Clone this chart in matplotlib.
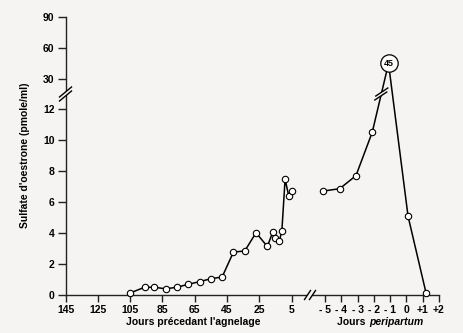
import numpy as np
import matplotlib.pyplot as plt
from matplotlib.lines import Line2D
from matplotlib.patches import Polygon
from matplotlib.transforms import IdentityTransform

plt.rcParams['font.family'] = ['Liberation Sans', 'DejaVu Sans']
plt.rcParams['font.weight'] = 'bold'

# days before lambing (left part) and peripartum days (right part)
days_before = [105, 96, 90, 83, 76, 69, 62, 55, 48, 41, 34, 27, 20, 16.7, 15, 12.6, 11, 9, 6.8, 5]
sulfate_before = [0.13, 0.5, 0.5, 0.4, 0.5, 0.69, 0.86, 1.05, 1.16, 2.77, 2.84, 4.02, 3.13,
                  4.05, 3.66, 3.46, 4.15, 7.48, 6.41, 6.73]
days_peri = [-5.1, -4.1, -3.1, -2.1, -1.1, 0.1, 1.2]
sulfate_peri = [6.71, 6.86, 7.7, 10.5, 45, 5.08, 0.15]

before_ticks = [145, 125, 105, 85, 65, 45, 25, 5]
peri_ticks = [-5, -4, -3, -2, -1, 0, 1, 2]
peri_labels = ['- 5', '- 4', '- 3', '- 2', '- 1', '0', '+1', '+2']
y_ticks = [0, 2, 4, 6, 8, 10, 12, 30, 60, 90]

bg = '#f5f4f2'
W, H = 464, 333


def fwd(y):
    y = np.asarray(y, float)
    return np.where(y <= 12, y, np.where(y >= 30, 13.94 + (y - 30) / 15.0,
                                         12 + (y - 12) * 1.94 / 18))


def inv(f):
    f = np.asarray(f, float)
    return np.where(f <= 12, f, np.where(f >= 13.94, 30 + (f - 13.94) * 15.0,
                                         12 + (f - 12) * 18 / 1.94))


fig = plt.figure(figsize=(W / 100, H / 100), dpi=100, facecolor=bg)
bottom = (H - 295) / H
height = (295 - 17) / H
ax1 = fig.add_axes([65.5 / W, bottom, (309 - 65.5) / W, height], facecolor=bg)
ax2 = fig.add_axes([311 / W, bottom, (439 - 311) / W, height], facecolor=bg, sharey=ax1)

for ax in (ax1, ax2):
    ax.set_yscale('function', functions=(fwd, inv))
    ax.spines[['top', 'right']].set_visible(False)
    for s in ax.spines.values():
        s.set_color('#222222')
        s.set_linewidth(1)
    ax.tick_params(direction='out', length=5, width=1, color='#222222',
                   labelsize=7.5, pad=2)
ax1.tick_params(axis='y', length=6)
ax2.spines['left'].set_visible(False)
ax2.tick_params(axis='y', left=False, labelleft=False)

ax1.set_ylim(0, 90)
ax1.set_yticks(y_ticks)
ax1.set_xlim(145, -5.8)
ax1.set_xticks(before_ticks)
ax2.set_xlim(-5.86, 2)
ax2.set_xticks(peri_ticks)
ax2.set_xticklabels(peri_labels)

mk = dict(color='black', lw=1.1, marker='o', ms=4.6, mfc='white', mec='black', mew=0.8,
          clip_on=False, zorder=3)
ax1.plot(days_before, sulfate_before, **mk)
ax2.plot(days_peri, sulfate_peri, **mk)

# big labelled marker for the peak
i_peak = int(np.argmax(sulfate_peri))
ax2.plot(days_peri[i_peak], sulfate_peri[i_peak], marker='o', ms=12.5, mfc='white',
         mec='black', mew=0.9, zorder=7, clip_on=False)
ax2.text(days_peri[i_peak], sulfate_peri[i_peak], '%d' % sulfate_peri[i_peak], ha='center',
         va='center', fontsize=6.5, zorder=8)

ident = IdentityTransform()


def break_mark(xc, yc, vx, vy, sx, sy):
    a = (xc - sx / 2, yc - sy / 2)
    b = (xc + sx / 2, yc + sy / 2)
    poly = [(a[0] - vx, a[1] - vy), (a[0] + vx, a[1] + vy),
            (b[0] + vx, b[1] + vy), (b[0] - vx, b[1] - vy)]
    fig.add_artist(Polygon(poly, closed=True, fc=bg, ec='none', transform=ident, zorder=5))
    for c in (a, b):
        fig.add_artist(Line2D([c[0] - vx, c[0] + vx], [c[1] - vy, c[1] + vy], color='black',
                              lw=1, transform=ident, zorder=6))


gap_y = 21
# y axis break
x0, yb = ax1.transData.transform((145, gap_y))
break_mark(x0, yb, 6, 5, 0, 4)
# x axis break
_, y0 = ax1.transData.transform((145, 0))
break_mark(310, y0, 3, 4.5, 5, 0)
# data line break between -2 and -1
p1 = ax2.transData.transform((days_peri[3], sulfate_peri[3]))
p2 = ax2.transData.transform((days_peri[4], sulfate_peri[4]))
t = (yb - p1[1]) / (p2[1] - p1[1])
xl = p1[0] + t * (p2[0] - p1[0])
break_mark(xl, yb, 6, 4, 1, 4)

fig.text(25 / W, 1 - 155 / H, "Sulfate d'oestrone (pmole/ml)", rotation=90,
         ha='center', va='center', fontsize=7.5)
fig.text(193 / W, 1 - 322 / H, "Jours précedant l'agnelage", ha='center', va='center',
         fontsize=7.5)
fig.text(368 / W, 1 - 322 / H, "Jours ", ha='right', va='center', fontsize=7.5)
fig.text(369 / W, 1 - 322 / H, "peripartum", ha='left', va='center', fontsize=7.5,
         style='italic')

fig.savefig('out.png', dpi=100, facecolor=bg)
